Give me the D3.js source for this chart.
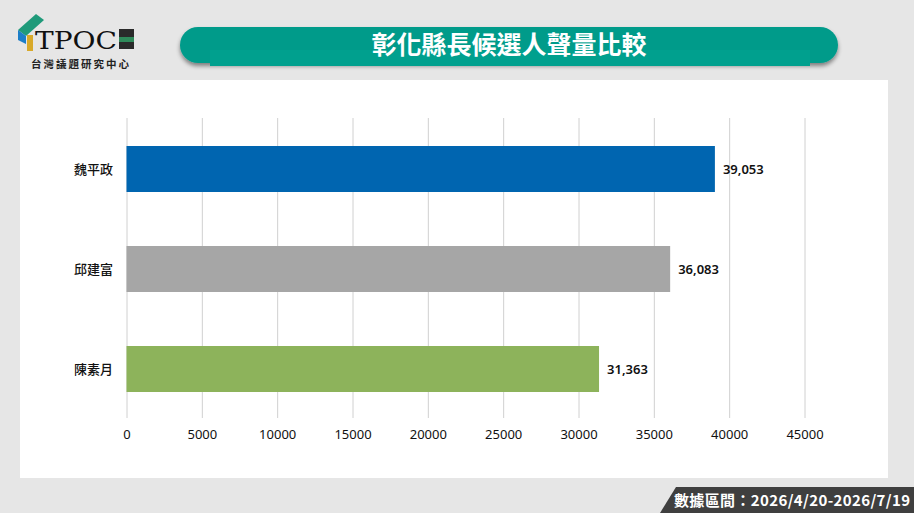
<!DOCTYPE html>
<html>
<head>
<meta charset="utf-8">
<script src="https://cdn.jsdelivr.net/npm/d3@7"></script>
<style>
  body { margin: 0; background: #e6e6e6; }
  svg { display: block; font-family: "Noto Sans CJK TC", "Noto Sans", sans-serif; }
</style>
</head>
<body>
<svg id="chart"></svg>
<script>
// data
var candidates = ['魏平政', '邱建富', '陳素月'];
var votes = [39053, 36083, 31363];
var barColors = ['#0065b0', '#a6a6a6', '#8db35b'];
var xTicks = [0, 5000, 10000, 15000, 20000, 25000, 30000, 35000, 40000, 45000];
var titleText = '彰化縣長候選人聲量比較';
var footText = '數據區間：2026/4/20-2026/7/19';

var W = 914, H = 513;
var svg = d3.select('#chart').attr('width', W).attr('height', H);

svg.append('rect').attr('width', W).attr('height', H).attr('fill', '#e6e6e6');

// white panel
svg.append('rect').attr('x', 20).attr('y', 80).attr('width', 868).attr('height', 398).attr('fill', '#ffffff');

// title banner
var defs = svg.append('defs');
var f = defs.append('filter').attr('id', 'sh').attr('x', '-10%').attr('y', '-50%').attr('width', '120%').attr('height', '200%');
f.append('feDropShadow').attr('dx', 0).attr('dy', 3).attr('stdDeviation', 2).attr('flood-color', '#000').attr('flood-opacity', 0.45);

svg.append('rect').attr('x', 180).attr('y', 27).attr('width', 658).attr('height', 36)
   .attr('rx', 18).attr('fill', '#009b8a').attr('filter', 'url(#sh)');
svg.append('rect').attr('x', 210).attr('y', 50).attr('width', 600).attr('height', 16).attr('fill', '#00a08e');
svg.append('text').attr('x', 509).attr('y', 54).attr('text-anchor', 'middle')
   .attr('fill', '#fff').attr('font-size', 25).attr('font-weight', 'bold').text(titleText);

// logo
var logo = svg.append('g');
logo.append('path').attr('d', 'M18,30 L36,14 L44,20 L26,36 Z').attr('fill', '#1f9a7a');
logo.append('path').attr('d', 'M18,30 L26,36 L26,44 L18,40 Z').attr('fill', '#1c7ec8');
logo.append('rect').attr('x', 27).attr('y', 35).attr('width', 6).attr('height', 16).attr('fill', '#d8a92a');
logo.append('text').attr('x', 35).attr('y', 49).attr('font-family', 'DejaVu Serif, serif')
   .attr('font-size', 25).attr('fill', '#111').attr('textLength', 82).attr('lengthAdjust', 'spacingAndGlyphs').text('TPOC');
logo.append('rect').attr('x', 119).attr('y', 29).attr('width', 15).attr('height', 20).attr('fill', '#2a2a2a');
logo.append('rect').attr('x', 119).attr('y', 37).attr('width', 15).attr('height', 5).attr('fill', '#2f8a5a');
logo.append('text').attr('x', 31).attr('y', 68).attr('font-size', 10.5).attr('font-weight', 'bold')
   .attr('fill', '#222').attr('textLength', 98).text('台灣議題研究中心');

// chart
var x = d3.scaleLinear().domain([0, 45000]).range([126.5, 804.5]);
var y = d3.scaleBand().domain(candidates).range([119, 419]).paddingInner(0.54).paddingOuter(0.27);

var grid = svg.append('g').attr('transform', 'translate(0,418)')
   .call(d3.axisBottom(x).tickValues(xTicks).tickSize(-300).tickFormat(d => d).tickPadding(12));
grid.select('.domain').remove();
grid.selectAll('.tick line').attr('stroke', '#d0d0d0');
grid.selectAll('.tick text').attr('font-size', 13).attr('fill', '#111').attr('font-family', 'Noto Sans, sans-serif');

var data = candidates.map((c, i) => ({ name: c, v: votes[i], color: barColors[i] }));

svg.selectAll('.bar').data(data).enter().append('rect')
   .attr('class', 'bar')
   .attr('x', x(0))
   .attr('y', d => y(d.name))
   .attr('width', d => x(d.v) - x(0))
   .attr('height', y.bandwidth())
   .attr('fill', d => d.color);

svg.selectAll('.val').data(data).enter().append('text')
   .attr('x', d => x(d.v) + 8)
   .attr('y', d => y(d.name) + y.bandwidth() / 2 + 5)
   .attr('font-size', 13).attr('font-weight', 600).attr('fill', '#111').attr('font-family', 'Noto Sans, sans-serif')
   .text(d => d3.format(',')(d.v));

svg.selectAll('.cat').data(data).enter().append('text')
   .attr('x', 113)
   .attr('y', d => y(d.name) + y.bandwidth() / 2 + 5)
   .attr('text-anchor', 'end').attr('font-size', 13).attr('font-weight', 500).attr('fill', '#111')
   .text(d => d.name);

// footer
svg.append('path').attr('d', 'M660,513 L676,487 L914,487 L914,513 Z').attr('fill', '#3f3f3f');
svg.append('text').attr('x', 674).attr('y', 506).attr('font-size', 15).attr('font-weight', 'bold')
   .attr('fill', '#fff').attr('textLength', 236).text(footText);
</script>
</body>
</html>
